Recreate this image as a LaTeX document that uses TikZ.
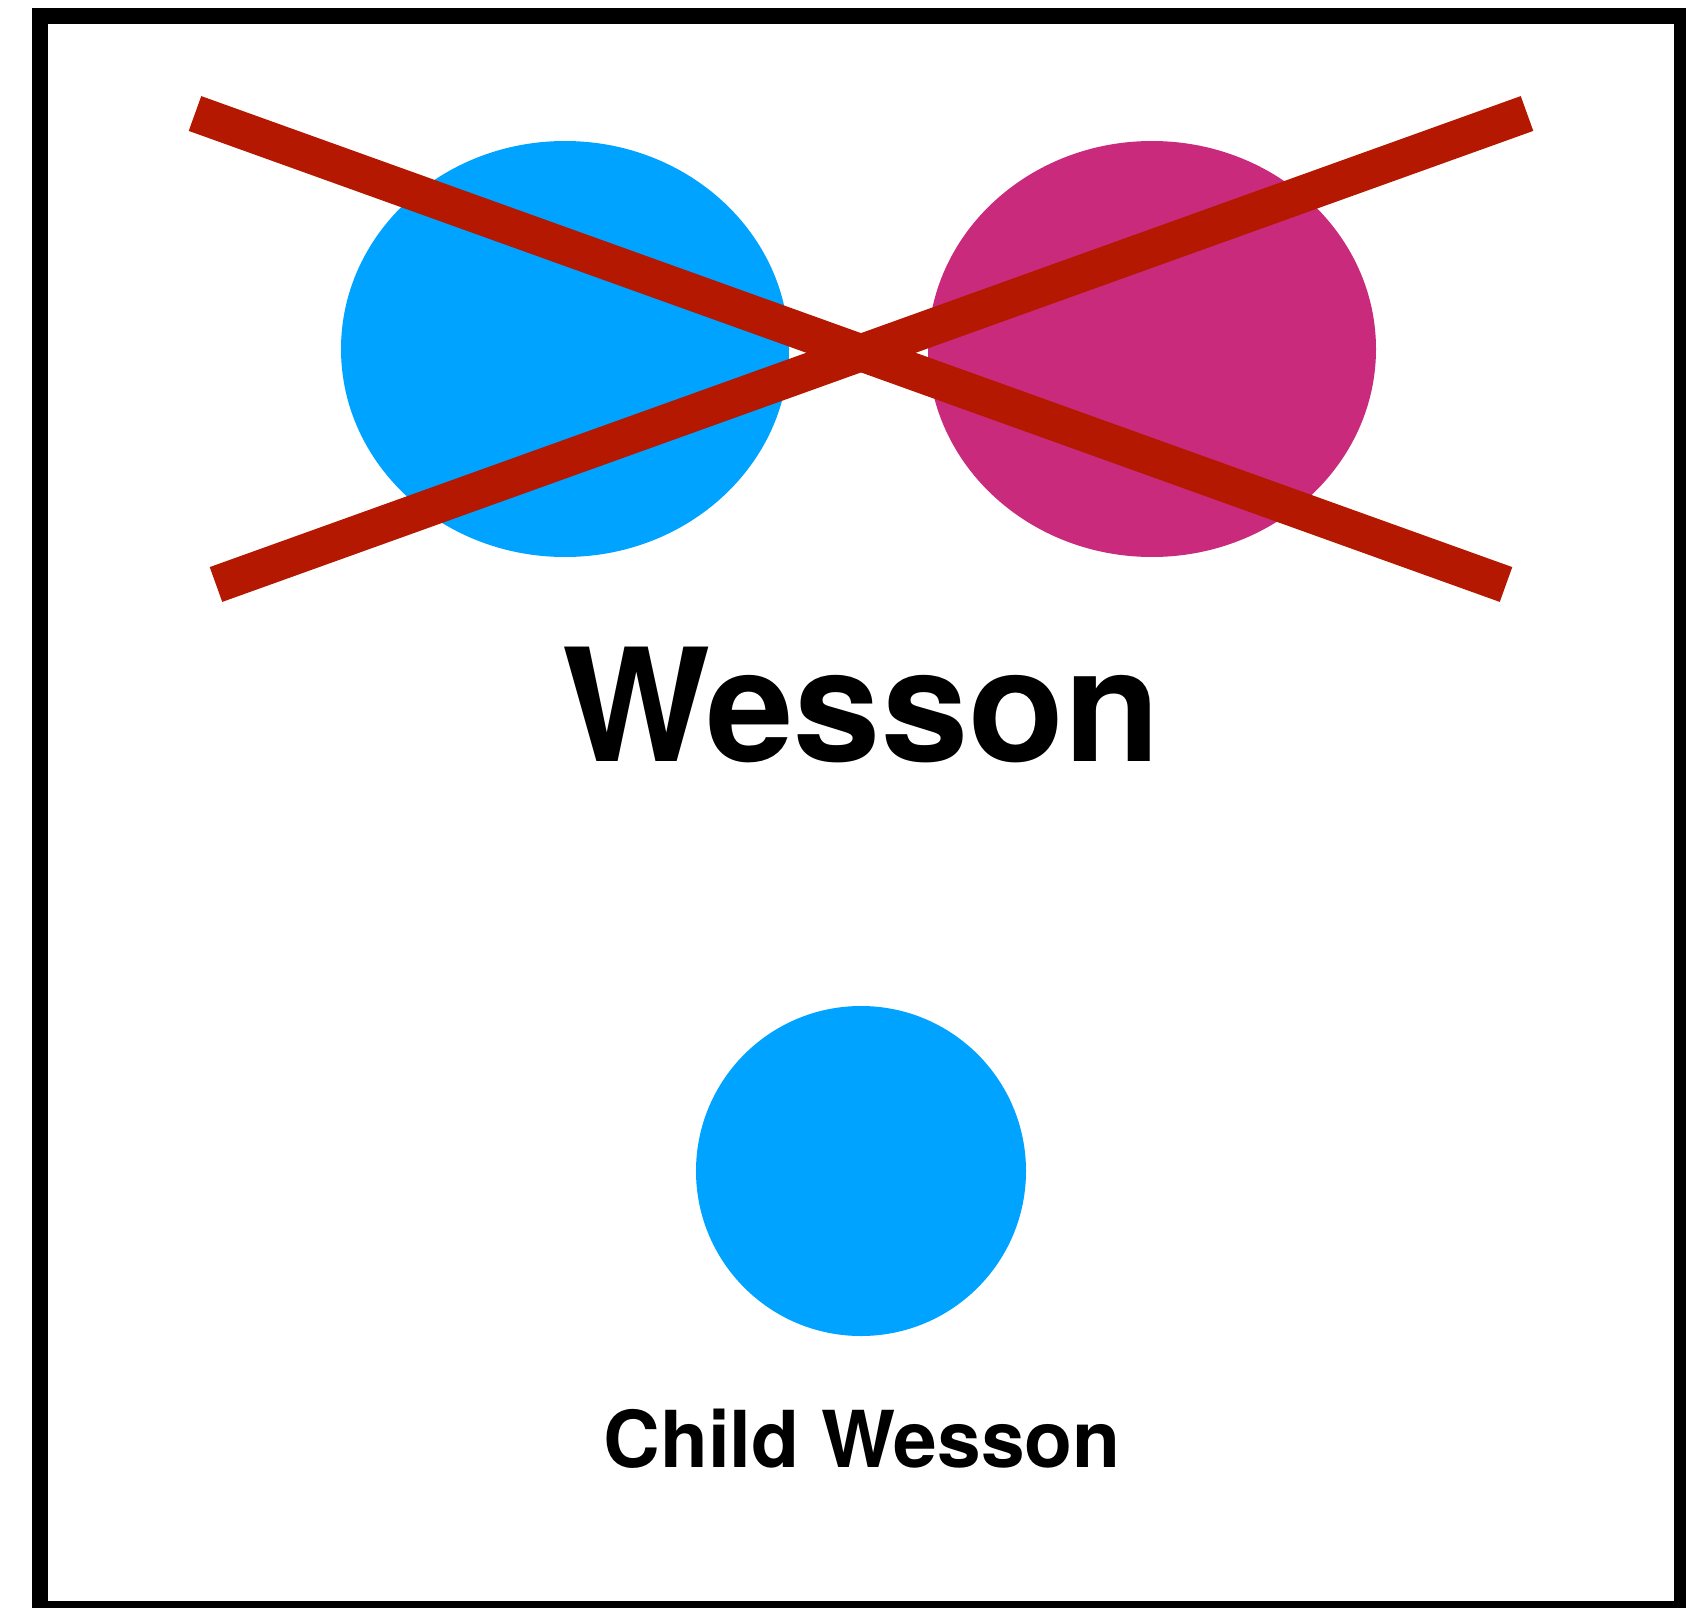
\documentclass[tikz,border=0pt]{standalone}
\usepackage{fontspec}
\setmainfont{TeX Gyre Heros}
\usetikzlibrary{shapes.geometric}
\definecolor{skyblue}{HTML}{00A3FF}
\definecolor{magentapink}{HTML}{CA2A7B}
\definecolor{crossred}{HTML}{B51800}
\tikzset{
  blob/.style={ellipse, fill=#1, draw=none, inner sep=0pt, minimum width=448pt, minimum height=416pt},
  crossline/.style={draw=crossred, line width=37pt},
  frameline/.style={draw=black, line width=16pt},
  bigtitle/.style={anchor=base, inner sep=0pt, font=\fontsize{157}{157}\selectfont\bfseries},
  smalltitle/.style={anchor=base, inner sep=0pt, font=\fontsize{78.5}{78.5}\selectfont\bfseries}
}
\begin{document}
\begin{tikzpicture}[x=1pt,y=-1pt]
\useasboundingbox (0,0) rectangle (1686,1608);
\clip (0,0) rectangle (1686,1608);
\fill[white] (0,0) rectangle (1686,1608);
\draw[frameline] (40,16) rectangle (1682,1609);
\node[blob=skyblue] (parentA) at (565,349) {};
\node[blob=magentapink] (parentB) at (1152,349) {};
\coordinate (c1a) at (195,113.5);
\coordinate (c1b) at (1506,584.5);
\coordinate (c2a) at (1527,113.5);
\coordinate (c2b) at (216,584.5);
\draw[crossline] (c1a) -- (c1b);
\draw[crossline] (c2a) -- (c2b);
\node[bigtitle] (title) at (861,761) {Wesson};
\node[circle, fill=skyblue, draw=none, inner sep=0pt, minimum size=330pt] (child) at (861,1171) {};
\node[smalltitle] (childlabel) at (862,1467) {Child Wesson};
\end{tikzpicture}
\end{document}
